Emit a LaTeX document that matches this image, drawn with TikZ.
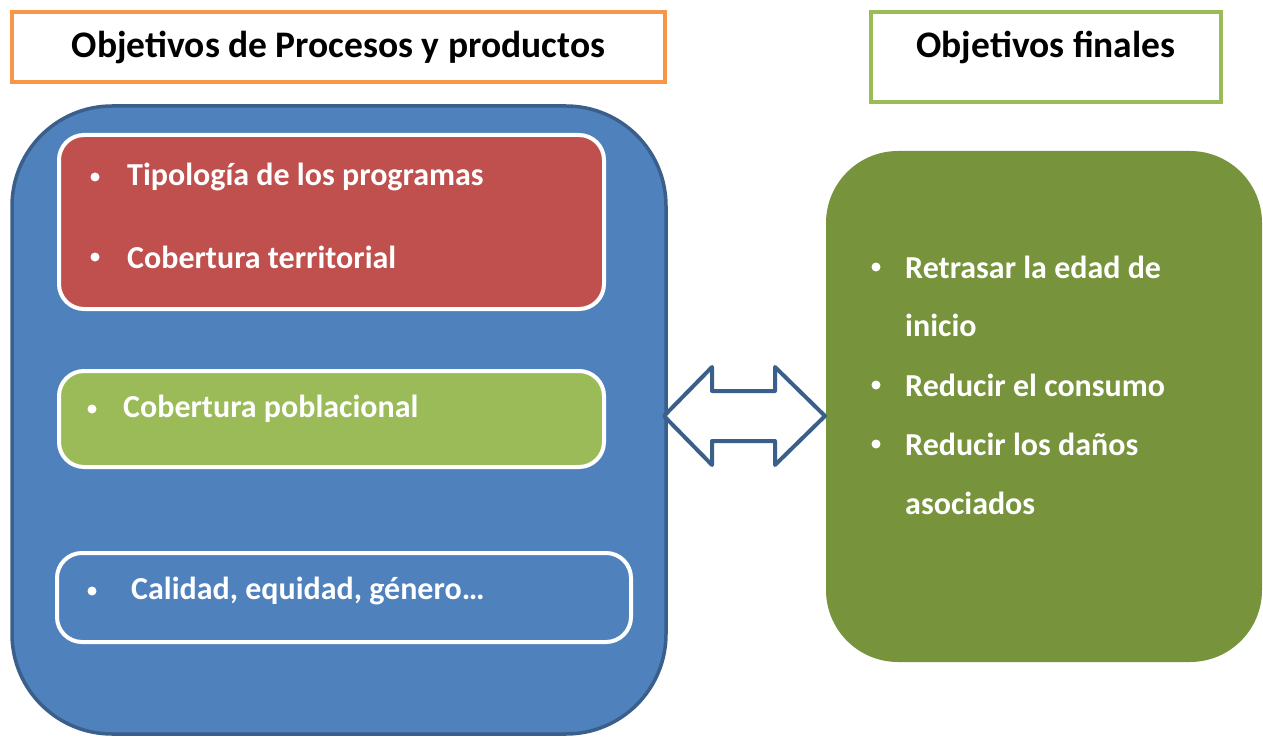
\documentclass[tikz,border=0pt]{standalone}
\usepackage{fontspec}
\setmainfont{Carlito}
\definecolor{naranja}{HTML}{F79646}
\definecolor{verdeclaro}{HTML}{9BBB59}
\definecolor{verdeoscuro}{HTML}{77933C}
\definecolor{azul}{HTML}{4F81BD}
\definecolor{azulborde}{HTML}{3A5F8B}
\definecolor{rojo}{HTML}{C0504D}
\begin{document}
\begin{tikzpicture}[x=1pt,y=-1pt,
  titulo/.style={draw, line width=4pt, fill=white, inner sep=0pt, font=\fontsize{37.5}{42}\selectfont\bfseries},
  caja/.style={draw=white, line width=4pt, rounded corners=25pt, inner sep=0pt},
  texto/.style={anchor=west, text=white, inner sep=0pt, font=\fontsize{32}{38}\selectfont\bfseries},
  punto/.style={circle, fill=white, inner sep=0pt, minimum size=9pt}]
\useasboundingbox (0,0) rectangle (1263,738);

\node [titulo, draw=naranja, minimum width=653pt, minimum height=70pt] (tproc) at (338.5,47) {Objetivos de Procesos y productos};
\node [titulo, draw=verdeclaro, minimum width=350pt, minimum height=90pt] (tfin) at (1046,57) {};
\node [inner sep=0pt, font=\fontsize{37.5}{42}\selectfont\bfseries] (tfintexto) at (1046,47) {Objetivos finales};

\node [draw=azulborde, fill=azul, line width=3.5pt, rounded corners=100pt, minimum width=654pt, minimum height=628pt] (procesos) at (339,420) {};
\node [fill=verdeoscuro, rounded corners=72pt, minimum width=436pt, minimum height=511pt] (finales) at (1044,406.5) {};

\node [caja, fill=rojo, minimum width=545pt, minimum height=174pt] (rojobox) at (331.5,222) {};
\node [caja, fill=verdeclaro, minimum width=545pt, minimum height=96pt] (verdebox) at (331.5,419) {};
\node [caja, fill=azul, minimum width=574pt, minimum height=89pt] (azulbox) at (344,597.5) {};

\node [punto] (p1) at (95,177) {};
\node [texto] (t1) at (127,177) {Tipología de los programas};
\node [punto] (p2) at (95,257) {};
\node [texto] (t2) at (127,257) {Cobertura territorial};
\node [punto] (p3) at (92,409) {};
\node [texto] (t3) at (123,409) {Cobertura poblacional};
\node [punto] (p4) at (92,591) {};
\node [texto] (t4) at (131,591) {Calidad, equidad, género…};

\node [punto] (p5) at (876,267) {};
\node [texto] (t5) at (905,267) {Retrasar la edad de};
\node [texto] (t6) at (905,325) {inicio};
\node [punto] (p6) at (876,385) {};
\node [texto] (t7) at (905,385) {Reducir el consumo};
\node [punto] (p7) at (876,444) {};
\node [texto] (t8) at (905,444) {Reducir los daños};
\node [texto] (t9) at (905,503) {asociados};

\draw [azulborde, fill=white, line width=4pt, line join=round]
  (664,416) -- (712,367) -- (712,391) -- (775,391) -- (775,367) -- (825,416)
  -- (775,465) -- (775,441) -- (712,441) -- (712,465) -- cycle;

\end{tikzpicture}
\end{document}
